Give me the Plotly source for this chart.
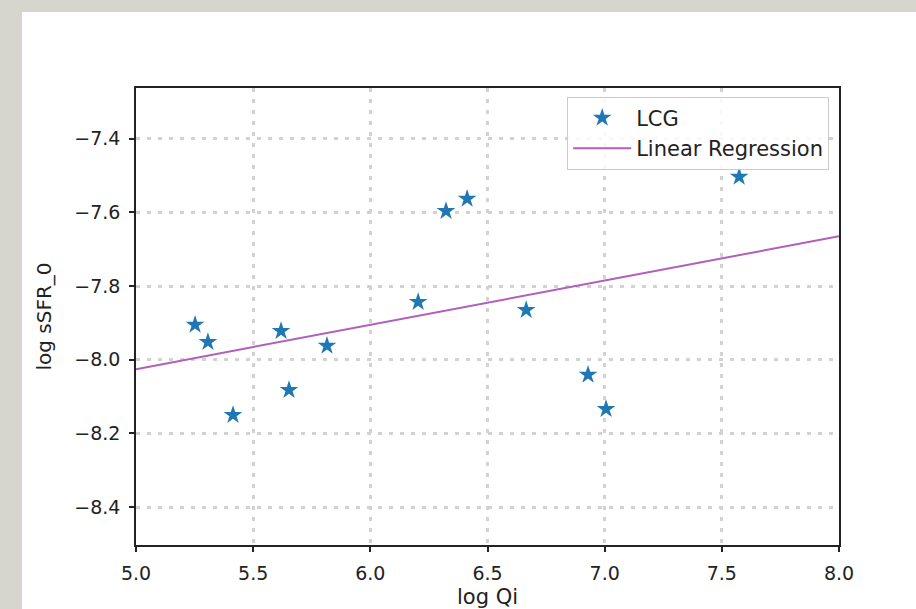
import plotly.graph_objects as go

log_qi = [5.252, 5.307, 5.414, 5.619, 5.653, 5.815, 6.204, 6.323, 6.413, 6.665, 6.929, 7.006, 7.574]
log_ssfr = [-7.905, -7.952, -8.150, -7.922, -8.082, -7.962, -7.843, -7.596, -7.563, -7.865, -8.041, -8.134, -7.503]

reg_slope = 0.1203
reg_intercept = -8.627
reg_x = [5.0, 8.0]
reg_y = [reg_slope * x + reg_intercept for x in reg_x]

x_ticks = [5.0, 5.5, 6.0, 6.5, 7.0, 7.5, 8.0]
x_ticktext = ["5.0", "5.5", "6.0", "6.5", "7.0", "7.5", "8.0"]
y_ticks = [-7.4, -7.6, -7.8, -8.0, -8.2, -8.4]
y_ticktext = ["\u22127.4", "\u22127.6", "\u22127.8", "\u22128.0", "\u22128.2", "\u22128.4"]

fig = go.Figure()
fig.add_trace(go.Scatter(
    x=log_qi, y=log_ssfr, mode="markers", name="LCG",
    marker=dict(symbol="star", size=14, color="#1f77b4", line=dict(width=0)),
))
fig.add_trace(go.Scatter(
    x=reg_x, y=reg_y, mode="lines", name="Linear Regression",
    line=dict(color="#b05fba", width=2),
))

font = "DejaVu Sans"
axis_common = dict(
    showline=True, linecolor="#222", linewidth=1.5, mirror=True,
    ticks="outside", ticklen=5, tickwidth=1.5, tickcolor="#222",
    showgrid=True, gridcolor="#d2d2d2", gridwidth=2.5, griddash="4px,7px",
    zeroline=False, tickfont=dict(family=font, size=19, color="#222"),
    ticklabelstandoff=5, automargin=False,
)

fig.update_layout(
    width=916, height=609,
    margin=dict(l=136, r=77, t=88, b=64),
    paper_bgcolor="#d6d6ce", plot_bgcolor="white",
    showlegend=True,
    legend=dict(
        x=0.986, y=0.981, xanchor="right", yanchor="top",
        bgcolor="rgba(255,255,255,0.85)", bordercolor="#cccccc", borderwidth=1,
        font=dict(family=font, size=21, color="#222"),
        itemwidth=58, tracegroupgap=0,
    ),
    xaxis=dict(
        range=[5.0, 8.0], tickvals=x_ticks, ticktext=x_ticktext,
        title=dict(text="log Qi", font=dict(family=font, size=21, color="#222"), standoff=8),
        **axis_common,
    ),
    yaxis=dict(
        range=[-8.503, -7.262], tickvals=y_ticks, ticktext=y_ticktext,
        title=dict(text="log sSFR_0", font=dict(family=font, size=20, color="#222"), standoff=17),
        **axis_common,
    ),
    shapes=[dict(
        type="rect", xref="paper", yref="paper",
        x0=(22 - 136) / 703, x1=(920 - 136) / 703,
        y0=(545 - 615) / 457, y1=(545 - 12) / 457,
        fillcolor="white", line=dict(width=0), layer="below",
    )],
)

fig.write_html("out.html")
